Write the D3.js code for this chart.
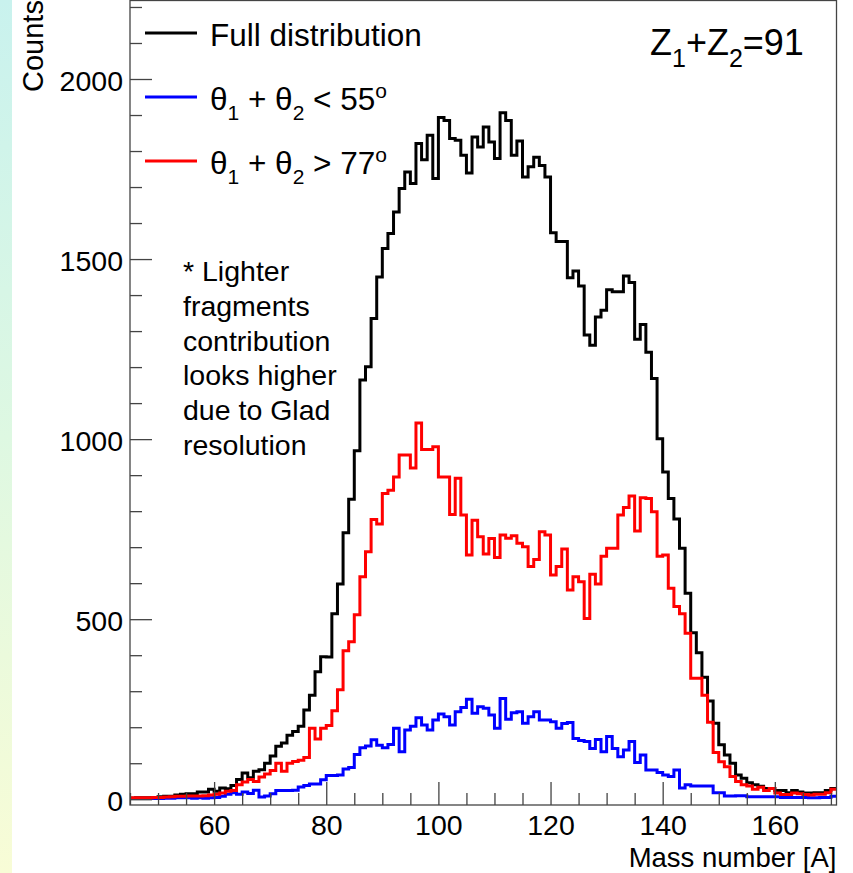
<!DOCTYPE html>
<html>
<head>
<meta charset="utf-8">
<script src="https://cdn.jsdelivr.net/npm/d3@7"></script>
<style>
  html, body { margin: 0; padding: 0; background: #ffffff; }
  svg { display: block; }
  text { font-family: "Liberation Sans", Arial, Helvetica, sans-serif; fill: #000; }
</style>
</head>
<body>
<svg id="chart" width="853" height="873"></svg>
<script>
// ---------------- data ----------------
const massBins = [
  45,46,47,48,49,50,51,52,53,54,55,56,57,58,59,60,61,62,63,64,
  65,66,67,68,69,70,71,72,73,74,75,76,77,78,79,80,81,82,83,84,
  85,86,87,88,89,90,91,92,93,94,95,96,97,98,99,100,101,102,103,104,
  105,106,107,108,109,110,111,112,113,114,115,116,117,118,119,120,121,122,123,124,
  125,126,127,128,129,130,131,132,133,134,135,136,137,138,139,140,141,142,143,144,
  145,146,147,148,149,150,151,152,153,154,155,156,157,158,159,160,161,162,163,164,
  165,166,167,168,169,170
];
const binWidth = 1;

const fullDist = [
  3,4,4,4,5,7,8,8,12,14,
  15,15,20,20,28,22,31,29,38,55,
  73,60,78,82,100,120,147,156,178,188,
  203,248,289,354,396,395,515,598,740,833,
  968,1164,1201,1335,1450,1529,1571,1631,1696,1742,
  1710,1821,1776,1844,1724,1893,1885,1835,1830,1788,
  1739,1839,1811,1867,1825,1779,1906,1885,1788,1828,
  1728,1756,1783,1760,1728,1573,1549,1549,1448,1467,
  1425,1289,1261,1339,1358,1415,1409,1409,1453,1435,
  1277,1318,1241,1168,1001,909,835,778,697,572,
  462,407,339,273,211,151,123,100,67,58,
  46,40,36,30,30,24,24,18,24,20,
  17,17,18,18,24,30
];
const thetaLow = [
  2,2,2,2,2,2,3,3,4,4,
  4,3,4,3,4,5,8,14,18,14,
  20,16,25,6,9,15,24,24,24,25,
  34,38,42,42,54,66,66,67,84,88,
  124,143,148,165,150,143,152,197,132,192,
  203,226,206,192,220,237,229,206,243,255,
  278,239,257,253,234,197,280,222,240,243,
  211,229,243,220,220,215,197,210,213,169,
  163,160,141,166,132,174,141,118,137,160,
  102,123,81,81,74,67,63,81,31,40,
  37,37,37,37,18,18,9,9,10,10,
  7,7,7,7,7,7,5,5,5,5,
  5,4,4,5,5,8
];
const thetaHigh = [
  4,4,4,4,5,5,6,7,8,8,
  9,9,9,10,12,14,17,22,24,40,
  48,55,49,62,70,80,100,78,100,105,
  108,116,197,167,197,205,246,304,412,437,
  512,618,687,777,764,849,858,895,956,956,
  920,1045,971,971,979,895,895,791,891,789,
  678,775,729,681,724,671,734,725,732,711,
  701,646,666,743,734,623,646,695,581,618,
  604,502,625,598,675,697,697,789,810,842,
  745,837,835,798,675,678,586,535,515,461,
  336,336,289,214,130,104,90,63,49,40,
  37,28,33,24,30,17,13,13,17,15,
  13,12,14,14,18,28
];

const xMajorTicks = [60, 80, 100, 120, 140, 160];
const yMajorTicks = [0, 500, 1000, 1500, 2000];
const xDomain = [45, 171];
const yDomain = [-16, 2218];

// ---------------- layout ----------------
const W = 853, H = 873;
const frame = { left: 130, right: 836.5, top: 0.5, bottom: 805 };
const FONT = '"Liberation Sans", Arial, Helvetica, sans-serif';

const svg = d3.select("#chart");

// left gradient strip
const defs = svg.append("defs");
const grad = defs.append("linearGradient").attr("id", "strip")
  .attr("x1", 0).attr("y1", 0).attr("x2", 0).attr("y2", 1);
grad.append("stop").attr("offset", "0%").attr("stop-color", "#c9f2ee");
grad.append("stop").attr("offset", "50%").attr("stop-color", "#def8e2");
grad.append("stop").attr("offset", "100%").attr("stop-color", "#f8fcd6");
svg.append("rect").attr("x", 0).attr("y", 0).attr("width", 12).attr("height", H)
  .attr("fill", "url(#strip)");

defs.append("clipPath").attr("id", "plotclip")
  .append("rect").attr("x", frame.left).attr("y", frame.top)
  .attr("width", frame.right - frame.left).attr("height", frame.bottom - frame.top);

const x = d3.scaleLinear().domain(xDomain).range([frame.left, frame.right]);
const y = d3.scaleLinear().domain(yDomain).range([frame.bottom, frame.top]);

// ---------------- histograms ----------------
function stepPoints(vals) {
  const pts = [];
  vals.forEach((v, i) => {
    pts.push([massBins[i], v]);
    pts.push([massBins[i] + binWidth, v]);
  });
  return pts;
}
const line = d3.line().x(d => x(d[0])).y(d => y(d[1]));

const series = [
  { vals: fullDist, color: "#000000" },
  { vals: thetaLow, color: "#0000ff" },
  { vals: thetaHigh, color: "#ff0000" }
];
const gHist = svg.append("g").attr("clip-path", "url(#plotclip)");
series.forEach(s => {
  gHist.append("path")
    .attr("d", line(stepPoints(s.vals)))
    .attr("fill", "none")
    .attr("stroke", s.color)
    .attr("stroke-width", 3)
    .attr("stroke-linejoin", "miter");
});

// ---------------- axes ----------------
const axisColor = "#444";
const yMinor = d3.range(0, 2201, 100).filter(v => v % 500 !== 0);
const xMinor = d3.range(45, 171, 5).filter(v => xMajorTicks.indexOf(v) < 0);

const gyMinor = svg.append("g").attr("transform", `translate(${frame.left},0)`)
  .call(d3.axisLeft(y).tickValues(yMinor).tickSize(-12).tickFormat(""));
const gy = svg.append("g").attr("transform", `translate(${frame.left},0)`)
  .call(d3.axisLeft(y).tickValues(yMajorTicks).tickSize(-22).tickPadding(7).tickFormat(d3.format("d")));
const gxMinor = svg.append("g").attr("transform", `translate(0,${frame.bottom})`)
  .call(d3.axisBottom(x).tickValues(xMinor).tickSize(-12).tickFormat(""));
const gx = svg.append("g").attr("transform", `translate(0,${frame.bottom})`)
  .call(d3.axisBottom(x).tickValues(xMajorTicks).tickSize(-23).tickPadding(10).tickFormat(d3.format("d")));

[gyMinor, gy, gxMinor, gx].forEach(g => {
  g.select(".domain").remove();
  g.selectAll(".tick line").attr("stroke", axisColor).attr("stroke-width", 1.3);
  g.selectAll("text").attr("font-family", FONT).attr("font-size", 28.5).attr("fill", "#000");
});
gy.selectAll("text").attr("dy", "0.41em");

// frame
svg.append("rect")
  .attr("x", frame.left).attr("y", frame.top)
  .attr("width", frame.right - frame.left).attr("height", frame.bottom - frame.top)
  .attr("fill", "none").attr("stroke", axisColor).attr("stroke-width", 1.3);

// axis titles
svg.append("text")
  .attr("transform", `translate(43,92) rotate(-90)`)
  .attr("font-size", 29).attr("text-anchor", "start")
  .text("Counts");
svg.append("text")
  .attr("x", frame.right).attr("y", 866.5)
  .attr("font-size", 27.5).attr("text-anchor", "end")
  .text("Mass number [A]");

// ---------------- legend ----------------
const legendRows = [
  { color: "#000000", y: 33, parts: [["Full distribution", 0]] },
  { color: "#0000ff", y: 97, parts: [["θ", 0], ["1", 1], [" + θ", 0], ["2", 1], [" < 55", 0], ["o", -1]] },
  { color: "#ff0000", y: 161, parts: [["θ", 0], ["1", 1], [" + θ", 0], ["2", 1], [" > 77", 0], ["o", -1]] }
];
const legSize = 31.5;
const gLeg = svg.append("g");
legendRows.forEach(r => {
  gLeg.append("line").attr("x1", 145).attr("x2", 197).attr("y1", r.y).attr("y2", r.y)
    .attr("stroke", r.color).attr("stroke-width", 3);
  const t = gLeg.append("text").attr("x", 210).attr("y", r.y + 13).attr("font-size", legSize)
    .attr("xml:space", "preserve");
  let prev = 0;
  r.parts.forEach(p => {
    const shift = p[1] === 1 ? 10 : (p[1] === -1 ? -12 : 0);
    t.append("tspan").attr("dy", shift - prev)
      .attr("font-size", p[1] === 0 ? legSize : 21)
      .text(p[0]);
    prev = shift;
  });
});

// Z label
const zt = svg.append("text").attr("x", 650).attr("y", 55).attr("font-size", 36);
const zParts = [["Z", 0], ["1", 1], ["+Z", 0], ["2", 1], ["=91", 0]];
let zprev = 0;
zParts.forEach(p => {
  const shift = p[1] === 1 ? 12 : 0;
  zt.append("tspan").attr("dy", shift - zprev)
    .attr("font-size", p[1] === 1 ? 25 : 36)
    .text(p[0]);
  zprev = shift;
});

// annotation
const noteLines = ["* Lighter", "fragments", "contribution", "looks higher", "due to Glad", "resolution"];
svg.append("g").selectAll("text").data(noteLines).join("text")
  .attr("x", 183).attr("y", (d, i) => 281 + i * 34.8)
  .attr("font-size", 28.5)
  .text(d => d);
</script>
</body>
</html>
